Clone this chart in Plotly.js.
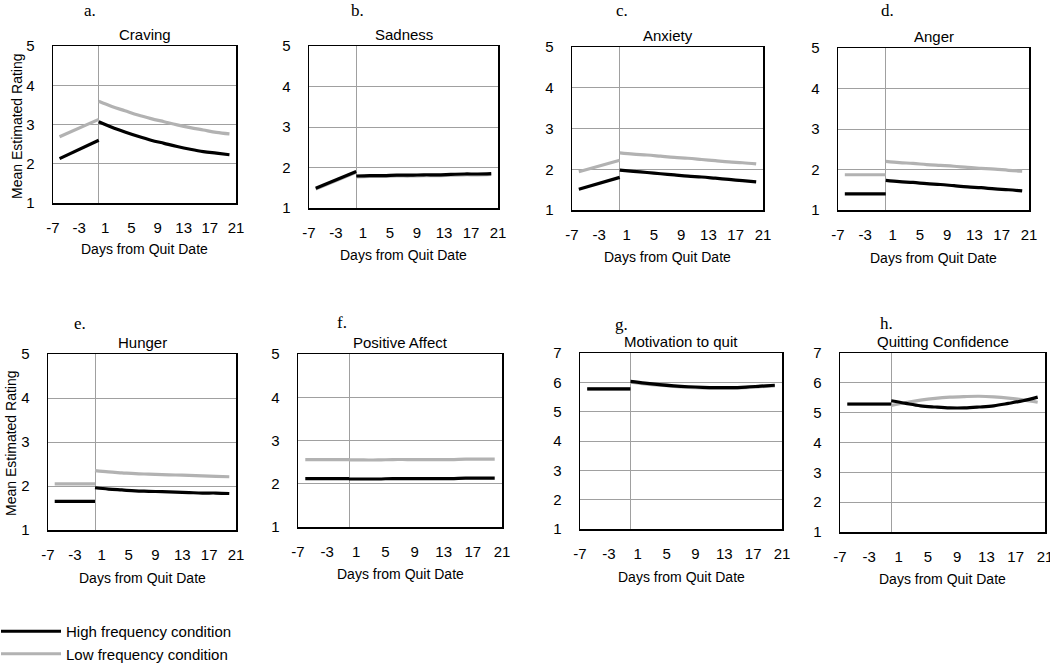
<!DOCTYPE html>
<html>
<head>
<meta charset="utf-8">
<script src="https://cdn.plot.ly/plotly-3.0.1.min.js"></script>
<style>
  html, body { margin: 0; padding: 0; background: #fff; }
  #chart { width: 1050px; height: 664px; }
</style>
</head>
<body>
<div id="chart"></div>
<script>
// ---------- DATA ----------
const panelLetters = ['a.', 'b.', 'c.', 'd.', 'e.', 'f.', 'g.', 'h.'];
const panelTitles = ['Craving', 'Sadness', 'Anxiety', 'Anger', 'Hunger', 'Positive Affect', 'Motivation to quit', 'Quitting Confidence'];
const seriesNames = ['High frequency condition', 'Low frequency condition'];
const daysPre = [-6, 0];
const daysPost = [0, 2, 4, 6, 8, 10, 12, 14, 16, 18, 20];
const xTickVals = [-7, -3, 1, 5, 9, 13, 17, 21];
const xTickText = ['-7', '-3', '1', '5', '9', '13', '17', '21'];
const xAxisTitle = 'Days from Quit Date';
const yAxisTitle = 'Mean Estimated Rating';

// Craving
const cravingHighPre = [2.13, 2.60];
const cravingHighPost = [3.07, 2.93, 2.81, 2.70, 2.60, 2.52, 2.44, 2.37, 2.31, 2.27, 2.23];
const cravingLowPre = [2.69, 3.13];
const cravingLowPost = [3.59, 3.46, 3.35, 3.24, 3.15, 3.07, 2.99, 2.92, 2.86, 2.80, 2.76];
// Sadness
const sadnessHighPre = [1.49, 1.90];
const sadnessHighPost = [1.79, 1.80, 1.80, 1.81, 1.81, 1.82, 1.82, 1.83, 1.84, 1.84, 1.85];
const sadnessLowPre = [1.47, 1.88];
const sadnessLowPost = [1.77, 1.78, 1.78, 1.79, 1.79, 1.80, 1.80, 1.81, 1.82, 1.82, 1.83];
// Anxiety
const anxietyHighPre = [1.51, 1.80];
const anxietyHighPost = [1.98, 1.95, 1.92, 1.89, 1.86, 1.83, 1.81, 1.78, 1.75, 1.72, 1.69];
const anxietyLowPre = [1.94, 2.22];
const anxietyLowPost = [2.40, 2.37, 2.35, 2.32, 2.29, 2.27, 2.24, 2.21, 2.18, 2.16, 2.13];
// Anger
const angerHighPre = [1.40, 1.40];
const angerHighPost = [1.73, 1.70, 1.68, 1.65, 1.63, 1.60, 1.57, 1.55, 1.52, 1.50, 1.47];
const angerLowPre = [1.87, 1.87];
const angerLowPost = [2.20, 2.17, 2.15, 2.12, 2.10, 2.08, 2.05, 2.03, 2.01, 1.98, 1.96];
// Hunger
const hungerHighPre = [1.65, 1.65];
const hungerHighPost = [1.96, 1.93, 1.91, 1.89, 1.88, 1.87, 1.86, 1.85, 1.84, 1.84, 1.83];
const hungerLowPre = [2.05, 2.05];
const hungerLowPost = [2.35, 2.32, 2.30, 2.28, 2.27, 2.26, 2.25, 2.24, 2.23, 2.22, 2.21];
// Positive Affect
const positiveHighPre = [2.12, 2.12];
const positiveHighPost = [2.11, 2.11, 2.11, 2.12, 2.12, 2.12, 2.12, 2.12, 2.13, 2.13, 2.13];
const positiveLowPre = [2.56, 2.56];
const positiveLowPost = [2.55, 2.55, 2.55, 2.56, 2.56, 2.56, 2.56, 2.56, 2.57, 2.57, 2.57];
// Motivation to quit
const motivationHighPre = [5.78, 5.78];
const motivationHighPost = [6.03, 5.97, 5.92, 5.88, 5.85, 5.83, 5.82, 5.82, 5.84, 5.87, 5.90];
const motivationLowPre = [5.77, 5.77];
const motivationLowPost = [6.01, 5.95, 5.90, 5.86, 5.83, 5.81, 5.80, 5.80, 5.82, 5.85, 5.88];
// Quitting Confidence
const confidenceHighPre = [5.29, 5.29];
const confidenceHighPost = [5.40, 5.31, 5.23, 5.19, 5.16, 5.16, 5.19, 5.23, 5.31, 5.40, 5.52];
const confidenceLowPre = [5.28, 5.28];
const confidenceLowPost = [5.24, 5.34, 5.42, 5.48, 5.52, 5.54, 5.55, 5.53, 5.49, 5.43, 5.35];

const highPre = [cravingHighPre, sadnessHighPre, anxietyHighPre, angerHighPre, hungerHighPre, positiveHighPre, motivationHighPre, confidenceHighPre];
const highPost = [cravingHighPost, sadnessHighPost, anxietyHighPost, angerHighPost, hungerHighPost, positiveHighPost, motivationHighPost, confidenceHighPost];
const lowPre = [cravingLowPre, sadnessLowPre, anxietyLowPre, angerLowPre, hungerLowPre, positiveLowPre, motivationLowPre, confidenceLowPre];
const lowPost = [cravingLowPost, sadnessLowPost, anxietyLowPost, angerLowPost, hungerLowPost, positiveLowPost, motivationLowPost, confidenceLowPost];
const yMax = [5, 5, 5, 5, 5, 5, 7, 7];

// ---------- LAYOUT (pixel boxes of each plot area) ----------
const W = 1050, H = 664;
const boxes = [
  [53, 236, 46, 203], [309, 498, 46, 208], [572, 763, 47, 210], [838, 1029, 48, 210],
  [48, 236, 354, 530], [298, 502, 354, 527], [580, 782, 353, 529], [840, 1045, 353, 532]
];
const letterPos = [[90, 11], [357, 11], [622, 11], [887, 11], [80, 323], [342, 322], [621, 324], [886, 323]];
const xTitleY = [249, 255, 257, 258, 578, 574, 577, 579];

const SANS = 'Liberation Sans, Arial, sans-serif';
const SERIF = 'Liberation Serif, Times New Roman, serif';
const BLACK = '#000000', GRAY = '#b2b2b2';

const px = x => x / W;
const py = y => 1 - y / H;

const traces = [];
const layout = {
  width: W, height: H,
  margin: {l: 0, r: 0, t: 0, b: 0, autoexpand: false},
  paper_bgcolor: '#ffffff', plot_bgcolor: '#ffffff',
  font: {family: SANS, size: 14, color: '#000'},
  showlegend: true,
  legend: {
    x: px(-4), y: py(615), xanchor: 'left', yanchor: 'top',
    bgcolor: 'rgba(0,0,0,0)', borderwidth: 0,
    font: {family: SANS, size: 15, color: '#000'},
    itemwidth: 60, tracegroupgap: 0
  },
  annotations: []
};

for (let i = 0; i < 8; i++) {
  const n = i + 1;
  const xa = 'x' + (n === 1 ? '' : n), ya = 'y' + (n === 1 ? '' : n);
  const b = boxes[i];
  layout['xaxis' + (n === 1 ? '' : n)] = {
    domain: [px(b[0]), px(b[1])], anchor: ya,
    range: [-7, 21], tickmode: 'array', tickvals: xTickVals, ticktext: xTickText,
    showgrid: false, zeroline: true, zerolinecolor: '#a0a0a0', zerolinewidth: 1,
    showline: true, mirror: true, linecolor: '#000', linewidth: 1.5,
    ticks: '', ticklabelstandoff: 10, ticklabeloverflow: 'allow',
    tickfont: {family: SANS, size: 15, color: '#000'},
    automargin: false, fixedrange: true
  };
  layout['yaxis' + (n === 1 ? '' : n)] = {
    domain: [py(b[3]), py(b[2])], anchor: xa,
    range: [1, yMax[i]], dtick: 1, tick0: 1,
    showgrid: true, gridcolor: '#a0a0a0', gridwidth: 1, zeroline: false,
    showline: true, mirror: true, linecolor: '#000', linewidth: 1.5,
    ticks: '', ticklabelstandoff: 14, ticklabeloverflow: 'allow',
    tickfont: {family: SANS, size: 15, color: '#000'},
    automargin: false, fixedrange: true
  };
  const lineStyle = (c) => ({color: c, width: 3.2});
  traces.push({x: daysPre, y: lowPre[i], xaxis: xa, yaxis: ya, mode: 'lines', line: lineStyle(GRAY),
    name: seriesNames[1], legendgroup: 'low', legendrank: 2, showlegend: i === 0, hoverinfo: 'skip'});
  traces.push({x: daysPost, y: lowPost[i], xaxis: xa, yaxis: ya, mode: 'lines', line: Object.assign(lineStyle(GRAY), {shape: 'spline'}),
    name: seriesNames[1], legendgroup: 'low', showlegend: false, hoverinfo: 'skip'});
  traces.push({x: daysPre, y: highPre[i], xaxis: xa, yaxis: ya, mode: 'lines', line: lineStyle(BLACK),
    name: seriesNames[0], legendgroup: 'high', legendrank: 1, showlegend: i === 0, hoverinfo: 'skip'});
  traces.push({x: daysPost, y: highPost[i], xaxis: xa, yaxis: ya, mode: 'lines', line: Object.assign(lineStyle(BLACK), {shape: 'spline'}),
    name: seriesNames[0], legendgroup: 'high', showlegend: false, hoverinfo: 'skip'});

  layout.annotations.push({text: panelLetters[i], xref: 'paper', yref: 'paper',
    x: px(letterPos[i][0]), y: py(letterPos[i][1]), xanchor: 'center', yanchor: 'middle',
    showarrow: false, font: {family: SERIF, size: 17, color: '#000'}});
  layout.annotations.push({text: panelTitles[i], xref: 'paper', yref: 'paper',
    x: px((b[0] + b[1]) / 2), y: py(b[2] - 1), xanchor: 'center', yanchor: 'bottom',
    showarrow: false, font: {family: SANS, size: 15, color: '#000'}});
  layout.annotations.push({text: xAxisTitle, xref: 'paper', yref: 'paper',
    x: px((b[0] + b[1]) / 2), y: py(xTitleY[i]), xanchor: 'center', yanchor: 'middle',
    showarrow: false, font: {family: SANS, size: 14, color: '#000'}});
}
[[17, 126], [11, 443]].forEach(p => {
  layout.annotations.push({text: yAxisTitle, xref: 'paper', yref: 'paper',
    x: px(p[0]), y: py(p[1]), xanchor: 'center', yanchor: 'middle', textangle: -90,
    showarrow: false, font: {family: SANS, size: 14, color: '#000'}});
});

Plotly.newPlot('chart', traces, layout, {displayModeBar: false, staticPlot: true});
</script>
</body>
</html>
